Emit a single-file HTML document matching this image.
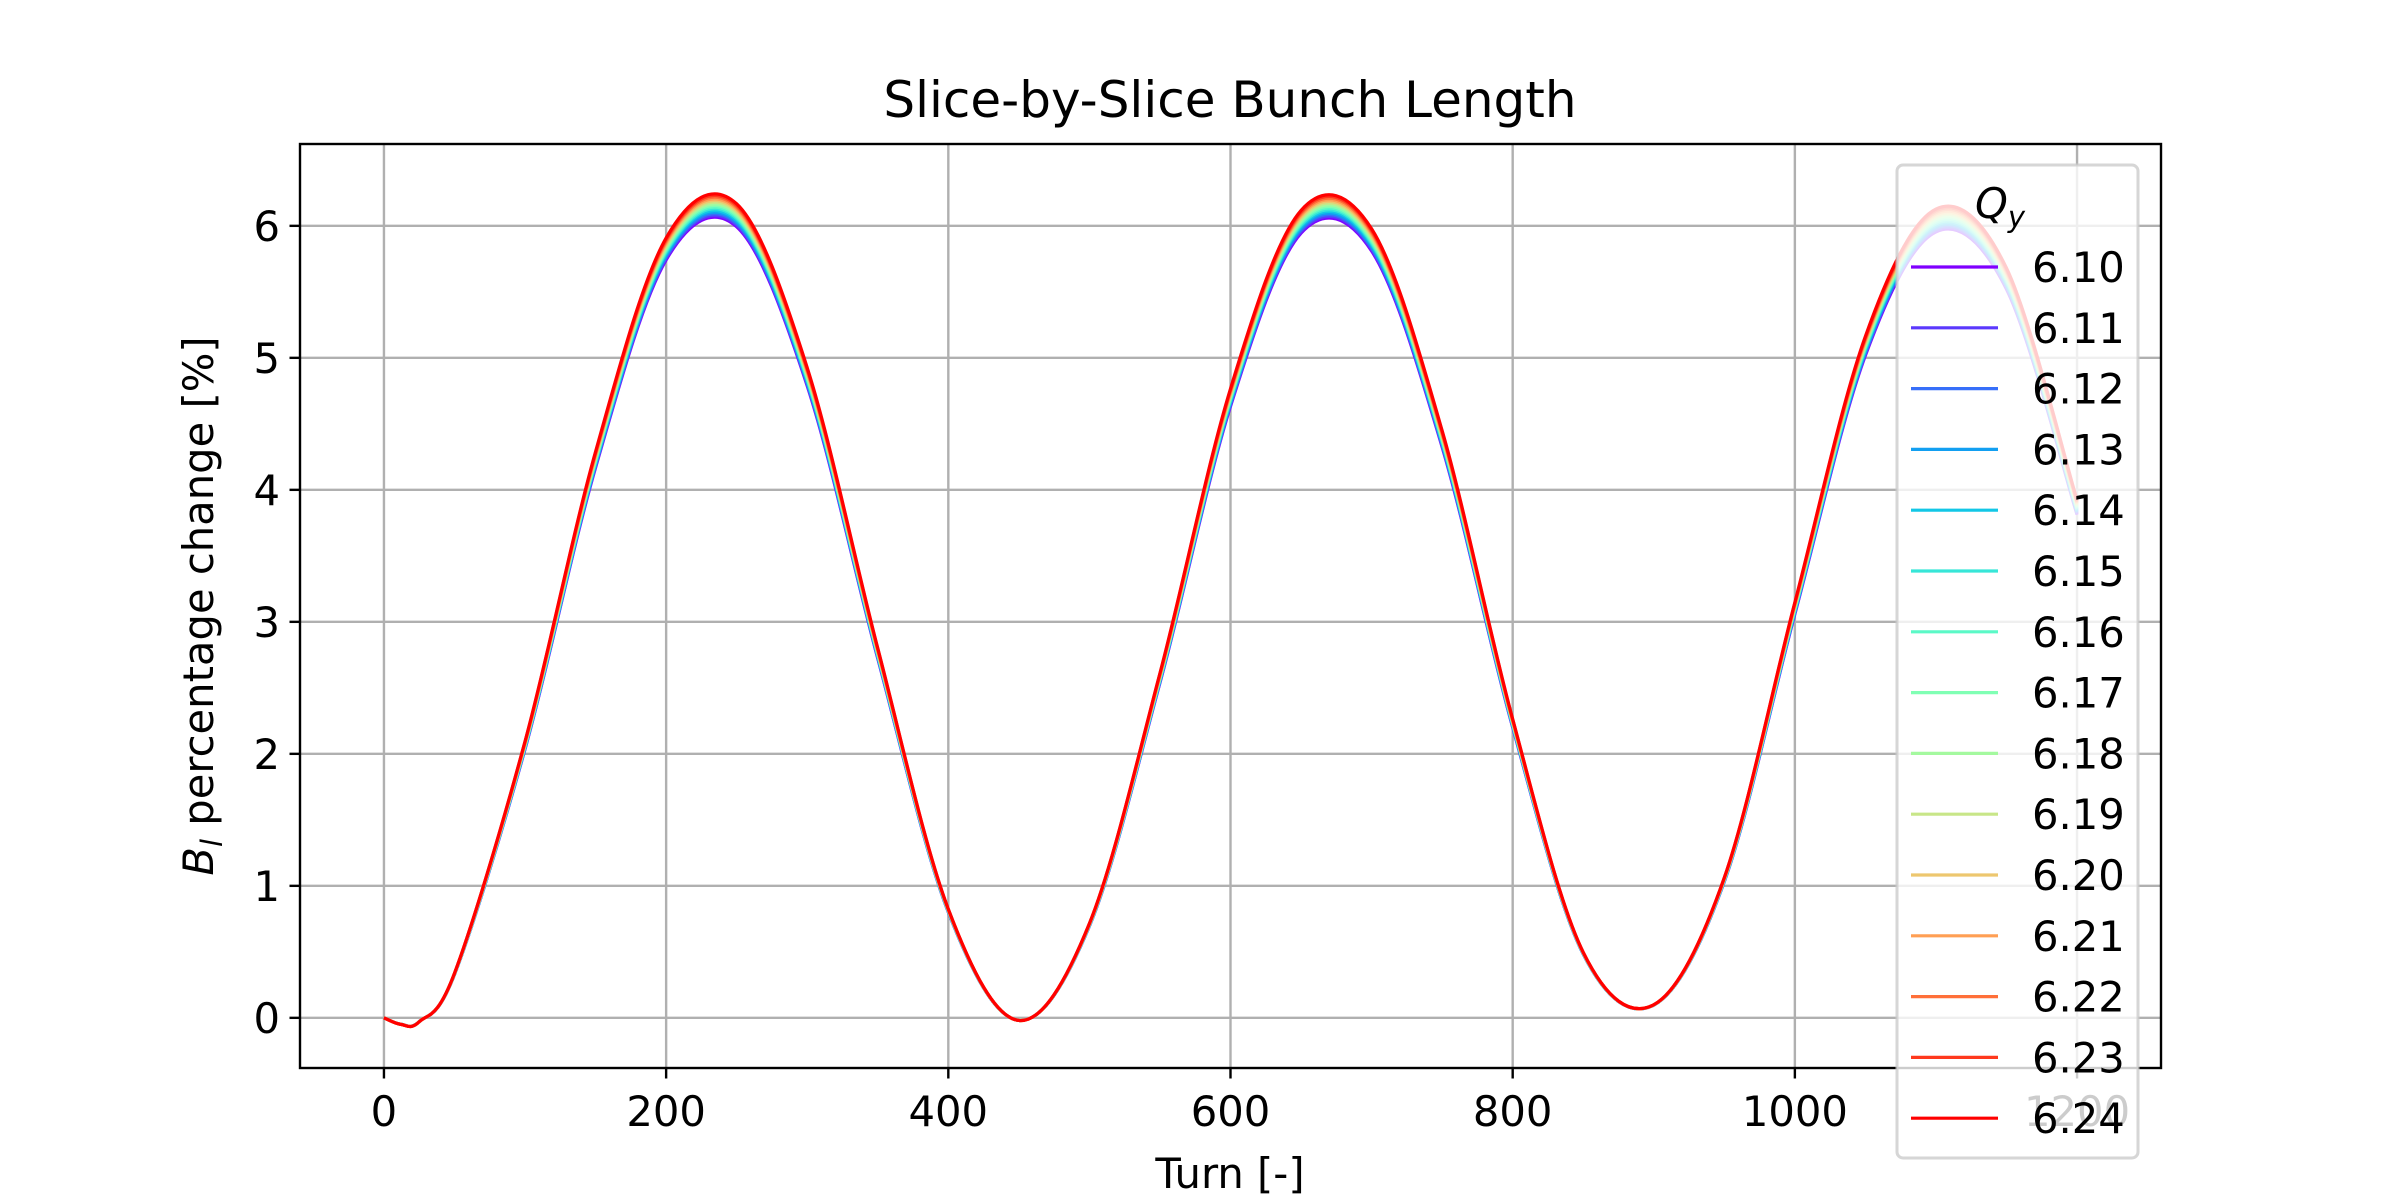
<!DOCTYPE html>
<html><head><meta charset="utf-8"><style>
html,body{margin:0;padding:0;background:#fff;}
svg{display:block;font-family:"DejaVu Sans","Liberation Sans",sans-serif;}
</style></head><body>
<svg id="chart" width="2400" height="1200" viewBox="0 0 2400 1200" xmlns="http://www.w3.org/2000/svg">
<rect width="2400" height="1200" fill="#fff"/>
<g id="grid"></g>
<g id="series"></g>
<g id="axes"></g>
<g id="legend"></g>
<text x="1230" y="117" font-size="50" text-anchor="middle">Slice-by-Slice Bunch Length</text>
<text x="1230" y="1188" font-size="41.7" text-anchor="middle">Turn [-]</text>
<text transform="translate(213,606) rotate(-90)" font-size="41.7" text-anchor="middle"><tspan font-style="italic">B</tspan><tspan font-style="italic" font-size="29" dy="9">l</tspan><tspan dy="-9"> percentage change [%]</tspan></text>
</svg>
<script>
const turns = [0,12,25,50,100,150,200,250,300,350,400,450,500,550,600,650,700,750,800,850,900,950,1000,1050,1100,1150,1200];
const profile = [0,-0.05,-0.03,0.34,2.11,4.32,5.95,6.21,4.96,2.82,0.83,-0.02,0.72,2.63,4.80,6.16,6.02,4.48,2.28,0.50,0.10,1.07,3.17,5.20,6.17,5.72,3.95];
const qyLabels = ["6.10","6.11","6.12","6.13","6.14","6.15","6.16","6.17","6.18","6.19","6.20","6.21","6.22","6.23","6.24"];
const amplitudes = [0.965,0.967,0.969,0.971,0.973,0.975,0.977,0.979,0.981,0.983,0.985,0.987,0.989,0.991,0.993];
const xTicks = [0,200,400,600,800,1000,1200];
const yTicks = [0,1,2,3,4,5,6];

const L=300,R=2161,T=144,B=1068;
const xmin=-59.5,xmax=1259.5,ymin=-0.38,ymax=6.62;
const sx=v=>L+(v-xmin)/(xmax-xmin)*(R-L);
const sy=v=>B-(v-ymin)/(ymax-ymin)*(B-T);
const NS="http://www.w3.org/2000/svg";
function mk(tag,attrs,parent){const e=document.createElementNS(NS,tag);for(const k in attrs)e.setAttribute(k,attrs[k]);parent.appendChild(e);return e;}
function rainbow(x){const c=v=>Math.round(255*Math.max(0,Math.min(1,v)));
 return `rgb(${c(Math.abs(2*x-0.5))},${c(Math.sin(Math.PI*x))},${c(Math.cos(Math.PI*x/2))})`;}
const grid=document.getElementById('grid'),axes=document.getElementById('axes'),ser=document.getElementById('series'),leg=document.getElementById('legend');

xTicks.forEach(t=>{
 const gl=mk('line',{x1:sx(t),x2:sx(t),y1:T,y2:B,stroke:'#b0b0b0','stroke-width':2.4},grid);
 
 
 const tk=mk('line',{x1:sx(t),x2:sx(t),y1:B,y2:B+10.5,stroke:'#000','stroke-width':2.4},axes);
 
 
 const lb=mk('text',{x:sx(t),y:B+58,'font-size':41.7,'text-anchor':'middle'},axes);
 lb.textContent=t;
 
 
});
yTicks.forEach(t=>{
 const gl=mk('line',{x1:L,x2:R,y1:sy(t),y2:sy(t),stroke:'#b0b0b0','stroke-width':2.4},grid);
 
 
 const tk=mk('line',{x1:L-10.5,x2:L,y1:sy(t),y2:sy(t),stroke:'#000','stroke-width':2.4},axes);
 
 
 const lb=mk('text',{x:L-20,y:sy(t)+15,'font-size':41.7,'text-anchor':'end'},axes);
 lb.textContent=t;
 
 
});
const frame=mk('rect',{x:L,y:T,width:R-L,height:B-T,fill:'none',stroke:'#000','stroke-width':2.4},axes);



function pathFor(vals){
 const p=turns.map((t,i)=>[sx(t),sy(vals[i])]);
 let d=`M${p[0][0]},${p[0][1]}`;
 for(let i=0;i<p.length-1;i++){
  const p0=p[Math.max(0,i-1)],p1=p[i],p2=p[i+1],p3=p[Math.min(p.length-1,i+2)];
  const c1=[p1[0]+(p2[0]-p0[0])/6,p1[1]+(p2[1]-p0[1])/6];
  const c2=[p2[0]-(p3[0]-p1[0])/6,p2[1]-(p3[1]-p1[1])/6];
  d+=`C${c1[0]},${c1[1]} ${c2[0]},${c2[1]} ${p2[0]},${p2[1]}`;
 }
 return d;
}
qyLabels.forEach((q,i)=>{
 const vals=profile.map(v=>v*amplitudes[i]);
 const col=rainbow(i/(qyLabels.length-1));
 const pth=mk('path',{d:pathFor(vals),fill:'none',stroke:col,'stroke-width':3.2},ser);
 
 
});

const box=mk('rect',{x:1897,y:165,width:241,height:993,rx:6,fill:'rgba(255,255,255,0.8)',stroke:'rgba(204,204,204,0.8)','stroke-width':3},leg);


const lt=mk('text',{x:2000,y:218,'font-size':41.7,'font-style':'italic','text-anchor':'middle'},leg);
lt.innerHTML='Q<tspan font-size="29" dy="9">y</tspan>';


qyLabels.forEach((q,i)=>{
 const y=267+i*60.8;
 const col=rainbow(i/(qyLabels.length-1));
 const g=mk('g',{},leg);
 
 
 mk('line',{x1:1911,x2:1998,y1:y,y2:y,stroke:col,'stroke-width':3.2},g);
 const t=mk('text',{x:2032,y:y+15,'font-size':41.7},g);
 t.textContent=q;
});
</script>
</body></html>
